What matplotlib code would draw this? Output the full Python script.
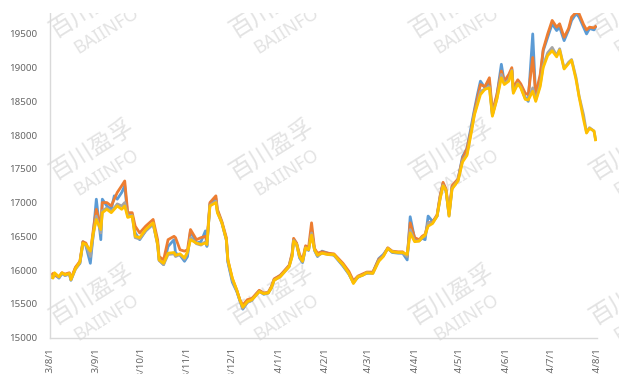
import matplotlib
matplotlib.use("Agg")
import matplotlib.pyplot as plt
import matplotlib.dates as mdates
from matplotlib.patches import Rectangle
from matplotlib.ticker import FuncFormatter
import pandas as pd

# daily price samples, Aug 2023 - Jul 2024
dates = [
    "2023-08-01", "2023-08-03", "2023-08-04", "2023-08-07", "2023-08-09", "2023-08-11", "2023-08-14",
    "2023-08-15", "2023-08-18", "2023-08-21", "2023-08-23", "2023-08-25", "2023-08-28", "2023-08-30",
    "2023-09-01", "2023-09-04", "2023-09-05", "2023-09-08", "2023-09-11", "2023-09-13", "2023-09-15",
    "2023-09-18", "2023-09-20", "2023-09-22", "2023-09-25", "2023-09-27", "2023-09-30",
    "2023-10-04", "2023-10-09", "2023-10-12", "2023-10-13", "2023-10-16", "2023-10-19", "2023-10-23",
    "2023-10-24", "2023-10-27", "2023-10-30",
    "2023-11-01", "2023-11-03", "2023-11-07", "2023-11-10", "2023-11-13", "2023-11-14", "2023-11-16",
    "2023-11-20", "2023-11-21", "2023-11-24", "2023-11-27", "2023-11-28",
    "2023-12-01", "2023-12-04", "2023-12-06", "2023-12-08", "2023-12-11", "2023-12-14", "2023-12-15",
    "2023-12-19", "2023-12-22", "2023-12-25", "2023-12-27", "2023-12-29",
    "2024-01-02", "2024-01-04", "2024-01-08", "2024-01-10", "2024-01-11", "2024-01-13", "2024-01-15",
    "2024-01-17", "2024-01-19", "2024-01-21", "2024-01-23", "2024-01-25", "2024-01-27", "2024-01-30",
    "2024-02-03", "2024-02-07", "2024-02-10", "2024-02-13", "2024-02-17", "2024-02-20", "2024-02-23",
    "2024-02-26", "2024-02-29",
    "2024-03-04", "2024-03-08", "2024-03-11", "2024-03-14", "2024-03-17", "2024-03-21", "2024-03-24",
    "2024-03-27", "2024-03-29",
    "2024-04-01", "2024-04-04", "2024-04-06", "2024-04-08", "2024-04-10", "2024-04-13", "2024-04-16",
    "2024-04-18", "2024-04-20", "2024-04-22", "2024-04-24", "2024-04-26", "2024-04-30",
    "2024-05-03", "2024-05-06", "2024-05-09", "2024-05-11", "2024-05-13", "2024-05-15", "2024-05-18",
    "2024-05-21", "2024-05-23", "2024-05-26", "2024-05-29", "2024-05-31",
    "2024-06-03", "2024-06-05", "2024-06-06", "2024-06-09", "2024-06-11", "2024-06-14", "2024-06-16",
    "2024-06-19", "2024-06-21", "2024-06-24", "2024-06-26", "2024-06-29",
    "2024-07-02", "2024-07-05", "2024-07-07", "2024-07-10", "2024-07-13", "2024-07-15", "2024-07-18",
    "2024-07-20", "2024-07-23", "2024-07-25", "2024-07-27", "2024-07-30", "2024-07-31",
]

blue = [
    15880, 15900, 15940, 15880, 15950, 15920, 15940, 15850, 16030, 16100, 16420, 16360, 16100, 16550,
    17050, 16450, 17050, 16950, 16900, 17100, 17050, 17150, 17250, 16800, 16820, 16550, 16450,
    16580, 16680, 16400, 16150, 16080, 16350, 16450, 16250, 16220, 16130,
    16200, 16580, 16400, 16420, 16580, 16350, 16980, 17060, 16880, 16700, 16450, 16120,
    15820, 15680, 15550, 15420, 15520, 15550, 15590, 15690, 15640, 15660, 15740, 15860,
    15920, 15960, 16060, 16230, 16450, 16390, 16180, 16110, 16340, 16290, 16600, 16290, 16200, 16280,
    16250, 16220, 16140, 16060, 15940, 15820, 15890, 15930, 15950,
    15960, 16170, 16230, 16320, 16260, 16250, 16250, 16150, 16790,
    16460, 16440, 16470, 16450, 16800, 16720, 16800, 17080, 17280, 17170, 16820, 17230, 17340,
    17680, 17800, 18150, 18380, 18600, 18800, 18700, 18800, 18300, 18580, 19050, 18780,
    18850, 18980, 18650, 18800, 18720, 18560, 18500, 19500, 18550, 18850, 19250, 19450,
    19650, 19550, 19600, 19400, 19560, 19700, 19800, 19750, 19600, 19500, 19580, 19560, 19600,
]

orange = [
    15900, 15950, 15920, 15900, 15960, 15940, 15960, 15870, 16040, 16130, 16420, 16400, 16250, 16600,
    16900, 16650, 17000, 17000, 16950, 17050, 17150, 17250, 17320, 16850, 16850, 16650, 16550,
    16650, 16750, 16450, 16200, 16150, 16450, 16500, 16480, 16300, 16280,
    16300, 16600, 16450, 16480, 16500, 16420, 17000, 17100, 16900, 16720, 16480, 16150,
    15870, 15700, 15560, 15480, 15560, 15580, 15600, 15700, 15660, 15670, 15750, 15870,
    15920, 15970, 16070, 16250, 16470, 16400, 16230, 16150, 16360, 16330, 16700, 16320, 16250, 16270,
    16250, 16240, 16170, 16100, 15980, 15840, 15910, 15940, 15970,
    15970, 16160, 16210, 16330, 16280, 16270, 16270, 16200, 16700,
    16480, 16450, 16500, 16530, 16700, 16710, 16820, 17100, 17300, 17200, 16850, 17250, 17350,
    17650, 17800, 18100, 18350, 18550, 18750, 18720, 18850, 18350, 18600, 18950, 18800,
    18900, 19000, 18700, 18820, 18760, 18620, 18600, 19150, 18600, 18900, 19270, 19500,
    19700, 19600, 19650, 19450, 19580, 19750, 19820, 19800, 19640, 19560, 19600, 19590, 19610,
]

gray = [
    15900, 15890, 15950, 15890, 15950, 15920, 15940, 15850, 16010, 16100, 16390, 16370, 16200, 16520,
    16800, 16550, 16880, 16920, 16870, 16920, 16980, 16950, 17000, 16800, 16810, 16480, 16460,
    16580, 16690, 16370, 16140, 16080, 16230, 16240, 16200, 16230, 16160,
    16250, 16480, 16390, 16370, 16420, 16370, 16960, 17020, 16860, 16700, 16440, 16130,
    15850, 15690, 15550, 15430, 15520, 15550, 15580, 15680, 15650, 15660, 15730, 15850,
    15900, 15950, 16050, 16210, 16440, 16380, 16190, 16120, 16330, 16300, 16550, 16300, 16210, 16250,
    16230, 16220, 16150, 16070, 15940, 15810, 15900, 15920, 15960,
    15950, 16140, 16210, 16320, 16270, 16260, 16250, 16200, 16600,
    16430, 16430, 16480, 16500, 16700, 16700, 16800, 17060, 17260, 17180, 16800, 17210, 17330,
    17620, 17720, 18080, 18320, 18480, 18650, 18680, 18720, 18300, 18540, 18900, 18760,
    18820, 18960, 18640, 18770, 18710, 18540, 18530, 18700, 18520, 18750, 19030, 19220,
    19300, 19180, 19280, 18990, 19080, 19120, 18850, 18580, 18300, 18040, 18110, 18060, 17940,
]

yellow = [
    15920, 15880, 15960, 15900, 15960, 15930, 15950, 15860, 16020, 16120, 16400, 16380, 16280, 16550,
    16750, 16600, 16850, 16900, 16850, 16900, 16950, 16900, 16950, 16780, 16800, 16500, 16480,
    16600, 16700, 16380, 16150, 16100, 16250, 16260, 16220, 16240, 16180,
    16270, 16450, 16400, 16380, 16400, 16380, 16950, 17000, 16850, 16700, 16450, 16150,
    15880, 15700, 15560, 15450, 15530, 15560, 15580, 15680, 15650, 15660, 15730, 15850,
    15900, 15950, 16050, 16200, 16430, 16380, 16200, 16130, 16330, 16300, 16520, 16300, 16220, 16250,
    16230, 16230, 16150, 16080, 15950, 15800, 15900, 15920, 15960,
    15950, 16130, 16200, 16320, 16270, 16260, 16260, 16230, 16550,
    16420, 16430, 16480, 16520, 16650, 16690, 16800, 17050, 17250, 17180, 16800, 17200, 17320,
    17600, 17700, 18050, 18300, 18450, 18600, 18680, 18700, 18280, 18530, 18850, 18750,
    18800, 18950, 18620, 18760, 18700, 18530, 18520, 18650, 18500, 18720, 19000, 19180,
    19250, 19160, 19260, 18980, 19060, 19110, 18820, 18570, 18230, 18030, 18100, 18060, 17930,
]

y_ticks = [15000, 15500, 16000, 16500, 17000, 17500, 18000, 18500, 19000, 19500]
wm_cn = "百川盈孚"
wm_en = "BAIINFO"

W, H = 619, 374
fig = plt.figure(figsize=(W / 100, H / 100), dpi=100)
fig.patch.set_facecolor("white")
ax = fig.add_axes([50 / W, 1 - 337.5 / H, 547 / W, 324.5 / H])
ax.set_zorder(1)
ax.patch.set_visible(False)

x = pd.to_datetime(dates)
for vals, col in [(blue, "#5B9BD5"), (orange, "#ED7D31"), (gray, "#A5A5A5"), (yellow, "#FFC000")]:
    ax.plot(x, vals, color=col, lw=2.0, solid_joinstyle="round")

ax.set_xlim(pd.Timestamp("2023-08-01"), pd.Timestamp("2024-08-01"))
ax.set_ylim(15000, 19810)
ax.set_yticks(y_ticks)

ax.xaxis.set_major_locator(mdates.MonthLocator())
ax.xaxis.set_major_formatter(FuncFormatter(
    lambda v, _: "{0.year}/{0.month}/{0.day}".format(mdates.num2date(v))))

ax.tick_params(axis="y", length=0, pad=9, labelsize=7, labelcolor="#666666")
ax.tick_params(axis="x", length=0, pad=7, labelsize=7, labelcolor="#666666", labelrotation=90)
for lab in ax.get_xticklabels() + ax.get_yticklabels():
    lab.set_family("Noto Sans")
for lab in ax.get_xticklabels():
    lab.set_va("top")

for s in ["top", "right"]:
    ax.spines[s].set_visible(False)
for s in ["left", "bottom"]:
    ax.spines[s].set_color("#d9d9d9")
    ax.spines[s].set_linewidth(1.0)

# watermark grid behind the plot
for cx in [92, 272, 452, 632]:
    for cy in [8, 150, 295]:
        fig.text(cx / W, 1 - cy / H, wm_cn, rotation=32, fontsize=17, color="#e3e3e3",
                 family=["Noto Sans CJK SC", "DejaVu Sans"], ha="center", va="center",
                 rotation_mode="anchor", zorder=0)
        fig.text((cx + 14) / W, 1 - (cy + 22) / H, wm_en, rotation=32, fontsize=13,
                 color="#e3e3e3", family="Noto Sans", ha="center", va="center",
                 rotation_mode="anchor", zorder=0)

# blank strip along the top edge
fig.add_artist(Rectangle((0, 1 - 13 / H), 1, 13 / H, transform=fig.transFigure,
                         facecolor="white", edgecolor="none", zorder=5))

fig.savefig("out.png", dpi=100)
